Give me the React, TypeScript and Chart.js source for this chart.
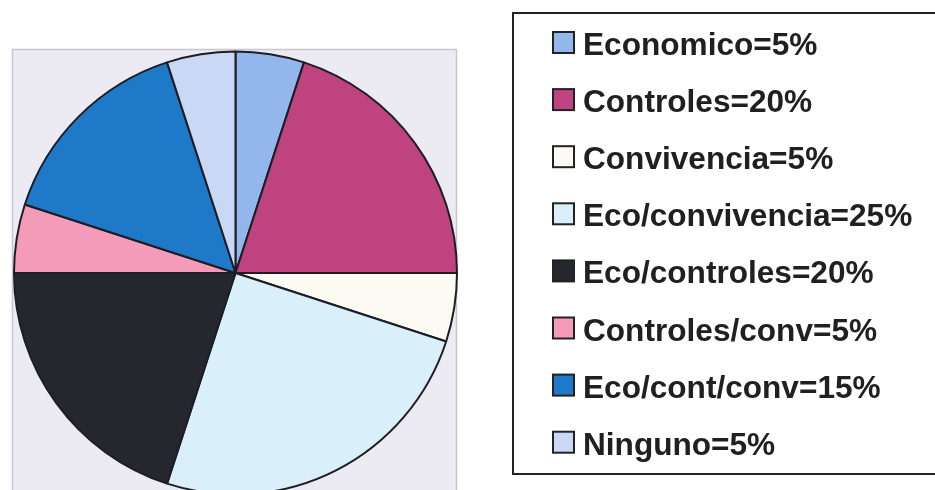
import React, { useEffect, useRef } from "react";
import { Chart, registerables } from "chart.js";

Chart.register(...registerables);

const categories = [
  "Economico",
  "Controles",
  "Convivencia",
  "Eco/convivencia",
  "Eco/controles",
  "Controles/conv",
  "Eco/cont/conv",
  "Ninguno",
];
const values = [5, 20, 5, 25, 20, 5, 15, 5];
const colors = [
  "#93b6ec",
  "#bf437f",
  "#fbfaf3",
  "#d9eff9",
  "#25272f",
  "#f39bb8",
  "#1f79c9",
  "#c9d9f5",
];

const backgroundPlugin = {
  id: "plotBackground",
  beforeDraw(chart: any) {
    const ctx = chart.ctx;
    ctx.save();
    ctx.fillStyle = "#ecebf4";
    ctx.fillRect(12.5, 49.5, 444, 480);
    ctx.strokeStyle = "#c6c6cf";
    ctx.lineWidth = 1.5;
    ctx.strokeRect(12.5, 49.5, 444, 480);
    ctx.restore();
  },
};

const legendPlugin = {
  id: "boxLegend",
  afterDraw(chart: any) {
    const ctx = chart.ctx;
    const labels = chart.data.labels as string[];
    const ds = chart.data.datasets[0];
    ctx.save();
    ctx.strokeStyle = "#222222";
    ctx.lineWidth = 2;
    ctx.strokeRect(513, 13, 440, 461);
    ctx.font = "bold 31.6px 'Liberation Sans', Arial, sans-serif";
    ctx.textBaseline = "alphabetic";
    ctx.textAlign = "left";
    labels.forEach((lab, i) => {
      const base = 55 + i * 57.1;
      ctx.fillStyle = ds.backgroundColor[i];
      ctx.fillRect(553, base - 23, 21, 21);
      ctx.strokeStyle = "#222222";
      ctx.lineWidth = 2;
      ctx.strokeRect(553, base - 23, 21, 21);
      ctx.fillStyle = "#202020";
      ctx.fillText(`${lab}=${ds.data[i]}%`, 583, base);
    });
    ctx.restore();
  },
};

export default function App() {
  const ref = useRef<HTMLCanvasElement | null>(null);
  useEffect(() => {
    if (!ref.current) return;
    const chart = new Chart(ref.current, {
      type: "pie",
      data: {
        labels: categories,
        datasets: [
          {
            data: values,
            backgroundColor: colors,
            borderColor: "#1d1d25",
            borderWidth: 2,
          },
        ],
      },
      options: {
        responsive: false,
        animation: false,
        devicePixelRatio: 1,
        layout: { padding: { left: 13, top: 50.5, right: 477, bottom: 24.5 } },
        plugins: {
          legend: { display: false },
          tooltip: { enabled: false },
        },
      },
      plugins: [backgroundPlugin, legendPlugin],
    });
    return () => chart.destroy();
  }, []);
  return (
    <div
      style={{
        position: "absolute",
        left: 0,
        top: 0,
        width: 935,
        height: 490,
        overflow: "hidden",
        background: "#ffffff",
      }}
    >
      <canvas ref={ref} width={935} height={520} style={{ display: "block" }} />
    </div>
  );
}
